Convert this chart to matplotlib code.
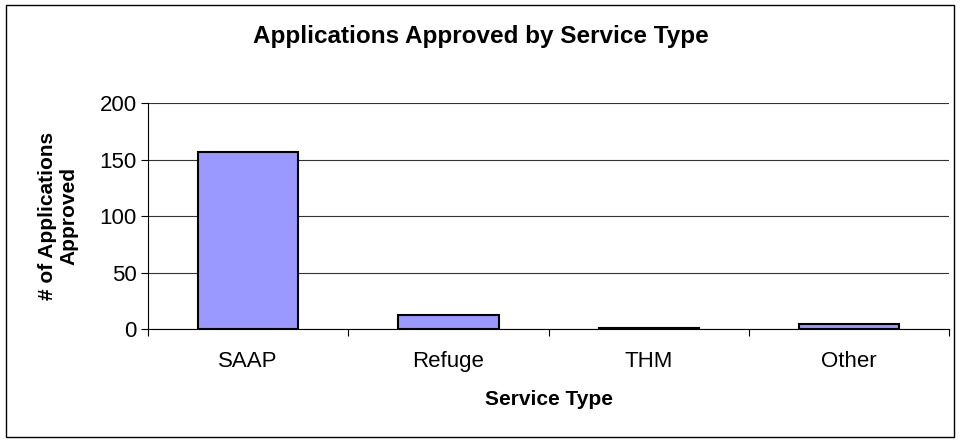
import matplotlib
matplotlib.use('Agg')
import matplotlib.pyplot as plt
from matplotlib.patches import Rectangle

plt.rcParams['font.family'] = ['Liberation Sans', 'DejaVu Sans']

# data
categories = ['SAAP', 'Refuge', 'THM', 'Other']
approved = [157, 12, 1, 4]
y_ticks = [0, 50, 100, 150, 200]

fig = plt.figure(figsize=(9.61, 4.41), dpi=100)
# outer chart border
fig.patches.append(Rectangle((0.006, 0.009), 0.987, 0.980, transform=fig.transFigure,
                             fill=False, edgecolor='black', linewidth=1.0))

ax = fig.add_axes([0.154, 0.254, 0.834, 0.512])
x = range(len(categories))
ax.bar(x, approved, width=0.5, color='#9999FF', edgecolor='black', linewidth=1.5, zorder=3)

ax.set_xlim(-0.5, len(categories) - 0.5)
ax.set_ylim(0, 200)
ax.set_yticks(y_ticks)
ax.yaxis.grid(True, color='#333333', linewidth=0.8, zorder=0)
ax.set_axisbelow(True)

ax.set_xticks(list(x))
ax.set_xticklabels(categories, fontsize=16)
ax.tick_params(axis='x', length=0, pad=16)
ax.set_xticks([i + 0.5 for i in range(-1, len(categories))], minor=True)
ax.tick_params(axis='x', which='minor', length=5, direction='out', width=0.8)
ax.tick_params(axis='y', labelsize=16, length=5, width=0.8, direction='out', pad=3)

for s in ['top', 'right']:
    ax.spines[s].set_visible(False)
ax.spines['left'].set_linewidth(0.8)
ax.spines['bottom'].set_linewidth(0.8)

ax.set_xlabel('Service Type', fontsize=15, fontweight='bold', labelpad=13)
ax.set_ylabel('# of Applications\nApproved', fontsize=15, fontweight='bold', va='center')
ax.yaxis.set_label_coords(-0.112, 0.5)
fig.text(0.5, 1 - 36 / 441, 'Applications Approved by Service Type', ha='center', va='center',
         fontsize=17.5, fontweight='bold')

plt.savefig('out.png', dpi=100)
